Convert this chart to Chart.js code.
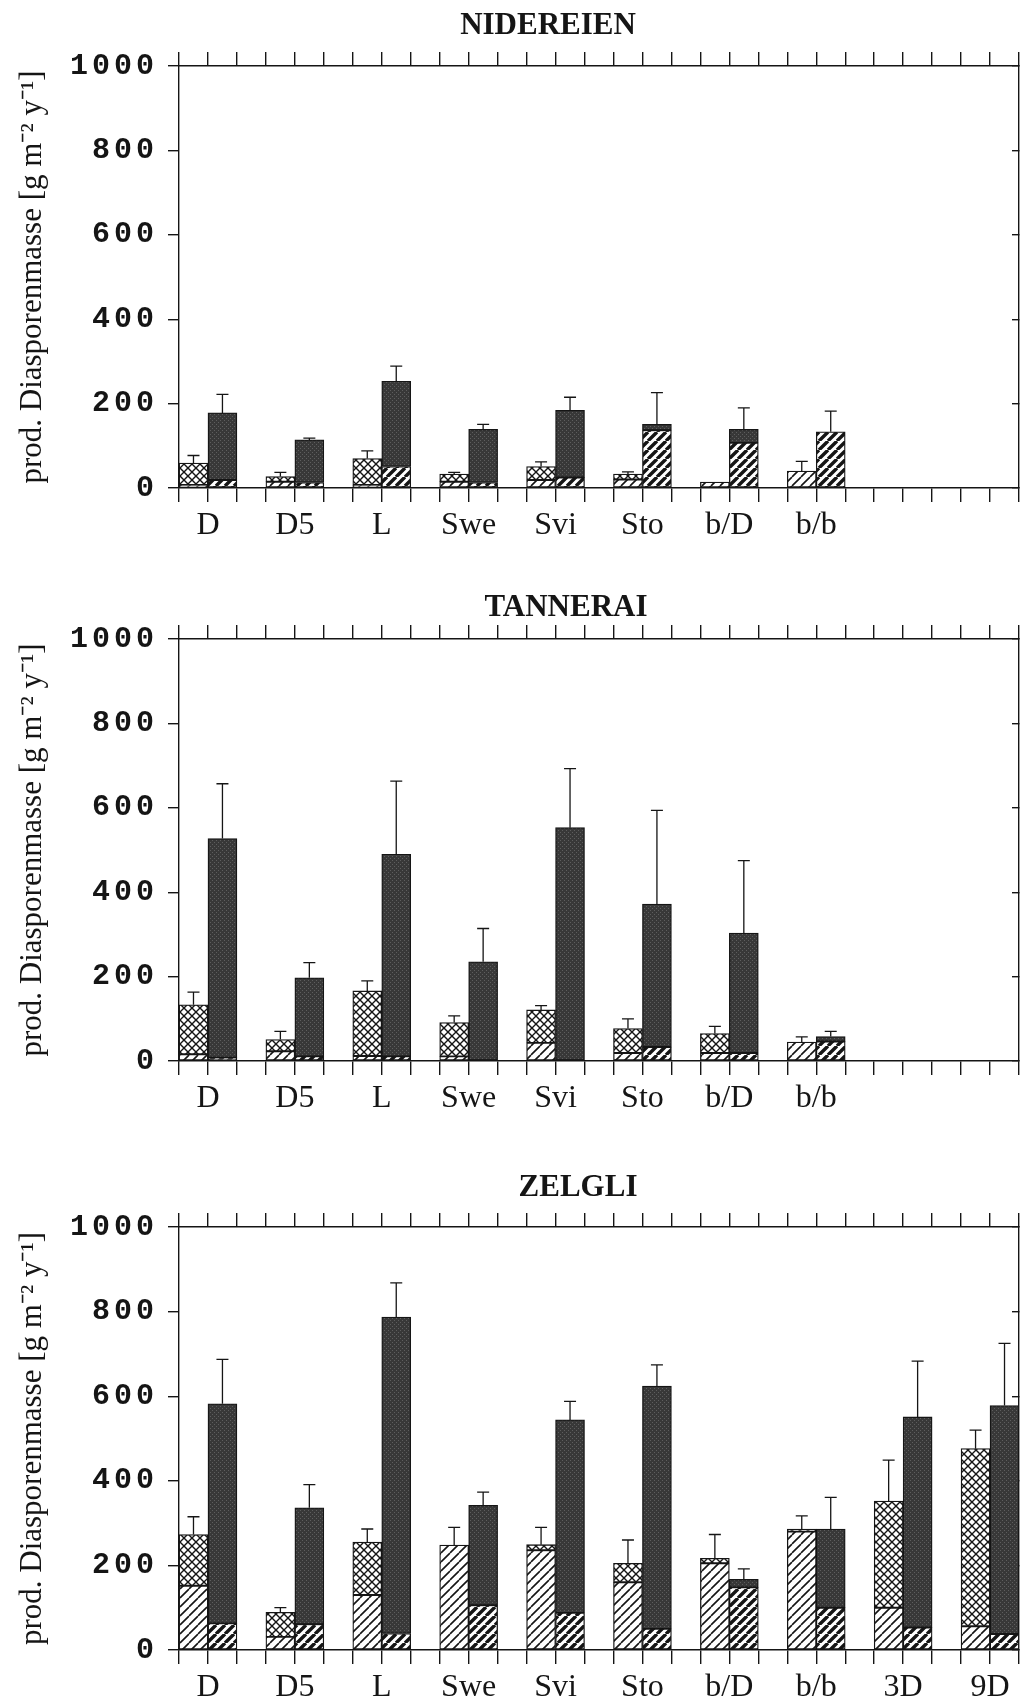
<!DOCTYPE html>
<html>
<head>
<meta charset="utf-8">
<script src="https://cdn.jsdelivr.net/npm/chart.js@4.4.1/dist/chart.umd.min.js"></script>
<style>
    html, body { margin: 0; padding: 0; background: #fff; }
    .panel { position: absolute; left: 0; }
</style>
</head>
<body>
<div class="panel" style="top:0"><canvas id="chart-1" width="1023" height="560"></canvas></div>
<div class="panel" style="top:560px"><canvas id="chart-2" width="1023" height="570"></canvas></div>
<div class="panel" style="top:1130px"><canvas id="chart-3" width="1023" height="571"></canvas></div>
<script>
const groupLabels = ['D', 'D5', 'L', 'Swe', 'Svi', 'Sto', 'b/D', 'b/b', '3D', '9D'];
const yTickStep = 200;
const yMax = 1000;
const yTitle = 'prod. Diasporenmasse [g m\u207B\u00B2 y\u207B\u00B9]';

// NIDEREIEN
const nidLeftBase = [7, 15, 7, 15, 19, 20, 14, 40];
const nidLeftTotal = [59, 27, 70, 33, 51, 33, 14, 40];
const nidLeftErrTop = [77, 37, 88, 37, 62, 38, null, 63];
const nidRightBase = [19, 13, 51, 13, 25, 137, 107, 133];
const nidRightTotal = [178, 114, 253, 139, 184, 151, 139, 133];
const nidRightErrTop = [222, 118, 289, 151, 215, 226, 190, 182];

// TANNERAI
const tanLeftBase = [16, 23, 12, 11, 43, 19, 19, 45];
const tanLeftTotal = [133, 51, 166, 91, 121, 77, 65, 45];
const tanLeftErrTop = [163, 70, 190, 107, 131, 100, 82, 57];
const tanRightBase = [8, 11, 11, 0, 0, 33, 19, 46];
const tanRightTotal = [527, 197, 490, 235, 553, 372, 303, 58];
const tanRightErrTop = [657, 233, 663, 314, 693, 594, 475, 70];

// ZELGLI
const zelLeftBase = [152, 31, 130, 248, 236, 160, 205, 280, 100, 56];
const zelLeftTotal = [273, 89, 255, 248, 249, 205, 217, 286, 352, 476];
const zelLeftErrTop = [315, 100, 286, 290, 290, 260, 273, 317, 449, 520];
const zelRightBase = [63, 61, 39, 106, 88, 50, 148, 100, 53, 38];
const zelRightTotal = [582, 336, 787, 342, 544, 624, 167, 286, 551, 578];
const zelRightErrTop = [687, 391, 868, 373, 588, 674, 192, 361, 683, 725];

const INK = '#151515';
const SLOTS = 29;      // 10 groups of two bars + 9 gaps
const PLOT_LEFT = 179;
const PLOT_RIGHT_W = 4;

function makePattern(size, draw) {
    const tile = document.createElement('canvas');
    tile.width = tile.height = size;
    const g = tile.getContext('2d');
    g.fillStyle = '#fff';
    g.fillRect(0, 0, size, size);
    draw(g, size);
    return g.createPattern(tile, 'repeat');
}

function diagonals(g, s, w, back) {
    g.strokeStyle = INK;
    g.lineWidth = w;
    g.beginPath();
    for (let k = -1; k <= 1; k++) {
        if (back) {
            g.moveTo(k * s, 0);
            g.lineTo(k * s + s, s);
        } else {
            g.moveTo(k * s, s);
            g.lineTo(k * s + s, 0);
        }
    }
    g.stroke();
}

const lightHatch = makePattern(9, (g, s) => diagonals(g, s, 1.6, false));
const boldHatch = makePattern(9, (g, s) => diagonals(g, s, 3.4, false));
const crossHatch = makePattern(8, (g, s) => {
    diagonals(g, s, 1.4, false);
    diagonals(g, s, 1.4, true);
});
const stipple = makePattern(4, (g, s) => {
    g.fillStyle = '#383838';
    g.fillRect(0, 0, s, s);
    g.fillStyle = '#5e5e5e';
    g.fillRect(0, 0, 1, 1);
    g.fillRect(2, 2, 1, 1);
});

const slot = (values, side) => values.map((v, i) => ({ x: i * 3 + side + 0.5, y: v }));
const diff = (total, base) => total.map((t, i) => t - base[i]);

const errorBars = {
    id: 'errorBars',
    afterDatasetsDraw(chart) {
        const { ctx } = chart;
        const yScale = chart.scales.y;
        ctx.save();
        ctx.strokeStyle = INK;
        ctx.lineWidth = 1.3;
        chart.data.datasets.forEach((ds, di) => {
            if (!ds.errTop) return;
            chart.getDatasetMeta(di).data.forEach((bar, i) => {
                const top = ds.errTop[i];
                if (top == null) return;
                const y1 = yScale.getPixelForValue(top);
                ctx.beginPath();
                ctx.moveTo(bar.x, bar.y);
                ctx.lineTo(bar.x, y1);
                ctx.moveTo(bar.x - 6, y1);
                ctx.lineTo(bar.x + 6, y1);
                ctx.stroke();
            });
        });
        ctx.restore();
    },
};

// y tick labels are drawn last (ticks.z = 1); widen their letter spacing like the typewriter digits
const tickSpacing = {
    id: 'tickSpacing',
    afterDatasetsDraw(chart) { chart.ctx.letterSpacing = '4px'; },
    afterDraw(chart) { chart.ctx.letterSpacing = '0px'; },
};

const panels = [
    {
        id: 'chart-1', title: 'NIDEREIEN', titleCenter: 548, titleY: 25.5, plotTop: 66, plotBottom: 488,
        leftBase: nidLeftBase, leftTotal: nidLeftTotal, leftErrTop: nidLeftErrTop,
        rightBase: nidRightBase, rightTotal: nidRightTotal, rightErrTop: nidRightErrTop,
    },
    {
        id: 'chart-2', title: 'TANNERAI', titleCenter: 566, titleY: 48, plotTop: 79, plotBottom: 501,
        leftBase: tanLeftBase, leftTotal: tanLeftTotal, leftErrTop: tanLeftErrTop,
        rightBase: tanRightBase, rightTotal: tanRightTotal, rightErrTop: tanRightErrTop,
    },
    {
        id: 'chart-3', title: 'ZELGLI', titleCenter: 578, titleY: 57.5, plotTop: 97, plotBottom: 520,
        leftBase: zelLeftBase, leftTotal: zelLeftTotal, leftErrTop: zelLeftErrTop,
        rightBase: zelRightBase, rightTotal: zelRightTotal, rightErrTop: zelRightErrTop,
    },
];

panels.forEach((p) => {
    const canvas = document.getElementById(p.id);
    const nGroups = p.leftTotal.length;
    // negative right padding shifts the full-width title box so its centre lands on titleCenter
    const shift = 2 * p.titleCenter - canvas.width;
    const titleSize = 31;
    const titlePadTop = p.titleY - titleSize / 2;
    const titleBox = titlePadTop + titleSize;

    const datasets = [
        { data: slot(p.leftBase, 0), backgroundColor: lightHatch },
        { data: slot(diff(p.leftTotal, p.leftBase), 0), backgroundColor: crossHatch, errTop: p.leftErrTop },
        { data: slot(p.rightBase, 1), backgroundColor: boldHatch },
        { data: slot(diff(p.rightTotal, p.rightBase), 1), backgroundColor: stipple, errTop: p.rightErrTop },
    ];

    const axisLine = { color: INK, width: 1.4 };

    new Chart(canvas, {
        type: 'bar',
        data: { datasets },
        plugins: [errorBars, tickSpacing],
        options: {
            responsive: false,
            animation: false,
            layout: { padding: { left: 0, top: 0, right: -shift, bottom: 0 } },
            datasets: {
                bar: {
                    categoryPercentage: 1,
                    barPercentage: 1,
                    borderColor: INK,
                    borderWidth: 1.3,
                    borderSkipped: false,
                },
            },
            plugins: {
                legend: { display: false },
                tooltip: { enabled: false },
                title: {
                    display: true,
                    text: p.title,
                    color: INK,
                    font: { family: 'Liberation Serif', size: titleSize, weight: 'bold', lineHeight: 1 },
                    padding: { top: titlePadTop, bottom: 0 },
                },
            },
            scales: {
                x: {
                    type: 'linear',
                    position: 'bottom',
                    min: 0,
                    max: SLOTS,
                    offset: false,
                    stacked: true,
                    border: axisLine,
                    grid: { drawOnChartArea: false, offset: false, tickLength: 14, color: INK, lineWidth: 1.4 },
                    ticks: {
                        stepSize: 1,
                        maxTicksLimit: 40,
                        autoSkip: false,
                        maxRotation: 0,
                        padding: 4,
                        color: INK,
                        font: { family: 'Liberation Serif', size: 32 },
                        callback: (v) => {
                            const n = Math.round(v);
                            const g = (n - 1) / 3;
                            return n % 3 === 1 && g < nGroups ? groupLabels[g] : '';
                        },
                    },
                    afterFit: (s) => { s.height = canvas.height - p.plotBottom; },
                },
                xTop: {
                    type: 'linear',
                    position: 'top',
                    min: 0,
                    max: SLOTS,
                    offset: false,
                    border: axisLine,
                    grid: { drawOnChartArea: false, offset: false, tickLength: 14, color: INK, lineWidth: 1.4 },
                    ticks: { display: false, stepSize: 1, maxTicksLimit: 40, autoSkip: false },
                    afterFit: (s) => { s.height = p.plotTop - titleBox; },
                },
                y: {
                    position: 'left',
                    min: 0,
                    max: yMax,
                    stacked: true,
                    border: axisLine,
                    grid: { drawOnChartArea: false, tickLength: 11, color: INK, lineWidth: 1.4 },
                    ticks: {
                        z: 1,
                        stepSize: yTickStep,
                        padding: 10,
                        color: INK,
                        font: { family: 'Liberation Mono', size: 30, weight: 'bold' },
                        callback: (v) => String(v),
                    },
                    title: {
                        display: true,
                        text: yTitle,
                        color: INK,
                        font: { family: 'Liberation Serif', size: 31, lineHeight: 1 },
                        padding: { top: 17, bottom: 0 },
                    },
                    afterFit: (s) => { s.width = PLOT_LEFT; },
                },
                yRight: {
                    position: 'right',
                    min: 0,
                    max: yMax,
                    border: axisLine,
                    grid: { drawOnChartArea: false, tickLength: -7, color: INK, lineWidth: 1.4 },
                    ticks: { display: false, stepSize: yTickStep },
                    afterFit: (s) => { s.width = PLOT_RIGHT_W + shift; },
                },
            },
        },
    });
});
</script>
</body>
</html>
